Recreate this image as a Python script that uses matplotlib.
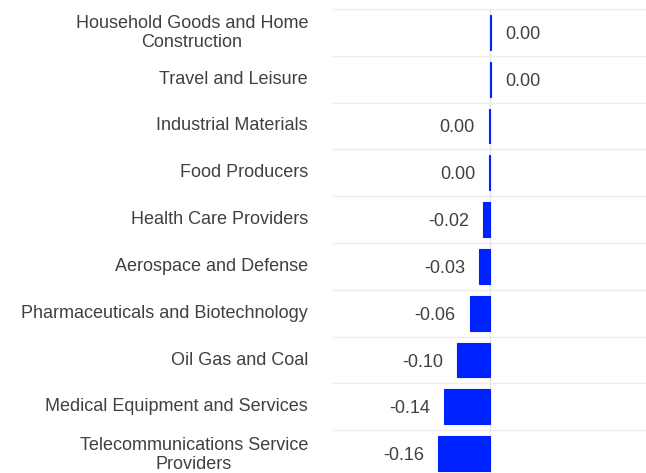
import matplotlib.pyplot as plt
import matplotlib.transforms as mtransforms

plt.rcParams['font.family'] = ['Liberation Sans', 'DejaVu Sans']

categories = ["Household Goods and Home\nConstruction", "Travel and Leisure",
              "Industrial Materials", "Food Producers", "Health Care Providers",
              "Aerospace and Defense", "Pharmaceuticals and Biotechnology",
              "Oil Gas and Coal", "Medical Equipment and Services",
              "Telecommunications Service\nProviders"]
values = [0.004, 0.004, -0.004, -0.003, -0.022, -0.034, -0.064, -0.103, -0.144, -0.163]
labels = ["0.00", "0.00", "0.00", "0.00", "-0.02", "-0.03", "-0.06", "-0.10", "-0.14", "-0.16"]

txt = "#404040"
fig = plt.figure(figsize=(6.46, 4.73), dpi=100)
ax = fig.add_axes([333/646, (473 - 9 - 468)/473, 313/646, 468/473])

y = list(range(len(categories)))
ax.barh(y, values, height=0.74, color="#0022ff", edgecolor="#0022ff", lw=0.8, zorder=3)
ax.set_ylim(len(categories) - 0.5, -0.5)
ax.set_xlim(-0.492, 0.489)

# row separators and zero line
for b in range(len(categories) + 1):
    ax.axhline(b - 0.5, color="#ececec", lw=1, zorder=1)
ax.axvline(0, color="#e4e4e4", lw=1, zorder=2)

for i, (v, lab) in enumerate(zip(values, labels)):
    if v >= 0:
        ax.annotate(lab, (v, i), xytext=(10, 0), textcoords="offset points",
                    ha="left", va="center_baseline", fontsize=13, color=txt)
    else:
        ax.annotate(lab, (v, i), xytext=(-10, 0), textcoords="offset points",
                    ha="right", va="center_baseline", fontsize=13, color=txt)

ax.set_yticks(y)
ax.set_yticklabels(categories, fontsize=13, color=txt, multialignment="center",
                   linespacing=1.15)
ax.tick_params(axis="y", length=0, pad=18)
shift = mtransforms.ScaledTranslation(0, 2/100, fig.dpi_scale_trans)
for t in ax.get_yticklabels():
    t.set_transform(t.get_transform() + shift)
ax.set_xticks([])
for s in ax.spines.values():
    s.set_visible(False)

fig.savefig("out.png", dpi=100)
